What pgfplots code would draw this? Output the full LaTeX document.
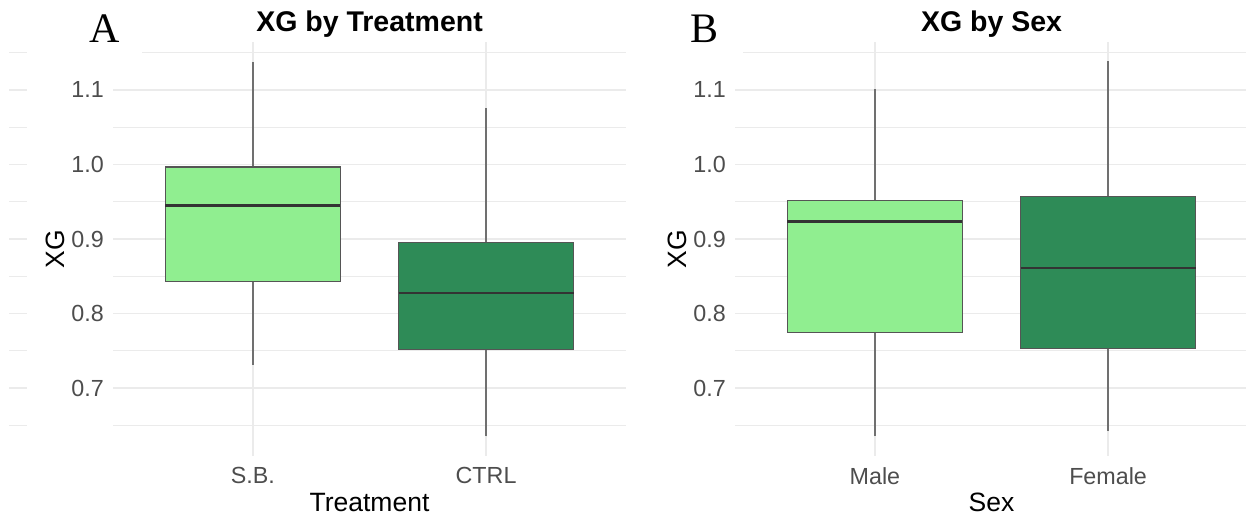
\documentclass[border=0pt]{standalone}
\usepackage{fontspec}
\setmainfont{Liberation Sans}
\newfontfamily\serifA{Liberation Serif}
\usepackage{pgfplots}
\pgfplotsset{compat=1.18}
\usepgfplotslibrary{statistics}
\definecolor{lgreen}{HTML}{90EE90}
\definecolor{dgreen}{HTML}{2E8B57}
\definecolor{gridc}{HTML}{EBEBEB}
\definecolor{tickc}{HTML}{4D4D4D}
\definecolor{boxc}{HTML}{555555}
\definecolor{whc}{HTML}{707070}
\definecolor{medc}{HTML}{333333}
\pgfplotsset{
  panel/.style={
    scale only axis, width=513pt, height=414pt, anchor=south west,
    xmin=0.4, xmax=2.6, ymin=0.6087, ymax=1.1644,
    xtick={1,2},
    ytick={0.7,0.8,0.9,1.0,1.1},
    minor ytick={0.65,0.75,0.85,0.95,1.05,1.15},
    xmajorgrids, ymajorgrids, yminorgrids,
    major grid style={gridc, line width=1.3pt},
    minor grid style={gridc, line width=1.1pt},
    axis line style={draw=none},
    major tick length=0pt, minor tick length=0pt,
    tick style={draw=none},
    /pgf/number format/assume math mode=true,
    yticklabel style={/pgf/number format/.cd, fixed, precision=1, zerofill, /tikz/.cd,
      font=\fontsize{23.3}{28}\selectfont, text=tickc, inner sep=0pt, xshift=-9pt, anchor=east},
    xticklabel style={font=\fontsize{23.3}{28}\selectfont, text=tickc, inner sep=0pt, anchor=north, yshift=-11pt},
    every axis x label/.style={at={(axis description cs:0.5,0)}, anchor=north, inner sep=0pt,
      yshift=-36.7pt, font=\fontsize{26.5}{32}\selectfont},
    every axis y label/.style={at={(axis description cs:0,0.5)}, xshift=-48pt, rotate=90, anchor=south,
      inner sep=0pt, font=\fontsize{26.5}{32}\selectfont},
    every axis title/.style={at={(axis description cs:0.5,1)}, anchor=north, yshift=31pt, inner sep=0pt,
      font=\bfseries\fontsize{28.5}{34}\selectfont},
    boxplot/draw direction=y,
    boxplot/box extend=0.75,
    boxplot/whisker extend=0,
    boxplot/every box/.style={draw=boxc, line width=1.2pt},
    boxplot/every whisker/.style={draw=whc, line width=1.5pt},
    boxplot/every median/.style={draw=medc, line width=2.4pt},
  },
}
\begin{document}
\begin{tikzpicture}
\useasboundingbox (0pt,0pt) rectangle (1246pt,-516pt);
% grid stubs at far left
\begin{axis}[scale only axis, width=18pt, height=414pt, anchor=south west, at={(9pt,-456pt)},
  xmin=0, xmax=1, ymin=0.6087, ymax=1.1644, xtick=\empty,
  ytick={0.7,0.8,0.9,1.0,1.1}, minor ytick={0.65,0.75,0.85,0.95,1.05,1.15},
  yticklabels={}, ymajorgrids, yminorgrids,
  major grid style={gridc, line width=1.3pt}, minor grid style={gridc, line width=1.1pt},
  axis line style={draw=none}, major tick length=0pt, minor tick length=0pt, tick style={draw=none}]
\end{axis}
% Panel A
\begin{axis}[panel, at={(113pt,-456pt)}, xticklabels={S.B., CTRL},
  title={XG by Treatment}, xlabel={Treatment}, ylabel={XG}]
\addplot[boxplot prepared={draw position=1, lower whisker=0.7315, lower quartile=0.843,
  median=0.945, upper quartile=0.9966, upper whisker=1.138}, fill=lgreen] coordinates {};
\addplot[boxplot prepared={draw position=2, lower whisker=0.635, lower quartile=0.7517,
  median=0.8273, upper quartile=0.8957, upper whisker=1.0752}, fill=dgreen] coordinates {};
\end{axis}
% Panel B
\begin{axis}[panel, at={(735pt,-456pt)}, xticklabels={Male, Female},
  title={XG by Sex}, xlabel={Sex}, ylabel={XG}]
\addplot[boxplot prepared={draw position=1, lower whisker=0.6353, lower quartile=0.774,
  median=0.9235, upper quartile=0.9513, upper whisker=1.1007}, fill=lgreen] coordinates {};
\addplot[boxplot prepared={draw position=2, lower whisker=0.642, lower quartile=0.753,
  median=0.8613, upper quartile=0.9566, upper whisker=1.1387}, fill=dgreen] coordinates {};
\end{axis}
\fill[white] (112pt,-44pt) rectangle (142pt,-62pt);
\fill[white] (734pt,-44pt) rectangle (743pt,-62pt);
\node[anchor=base west, inner sep=0pt, font=\serifA\fontsize{42}{50}\selectfont] at (89.5pt,-43pt) {A};
\node[anchor=base west, inner sep=0pt, font=\serifA\fontsize{42}{50}\selectfont] at (690pt,-43pt) {B};
\end{tikzpicture}
\end{document}
